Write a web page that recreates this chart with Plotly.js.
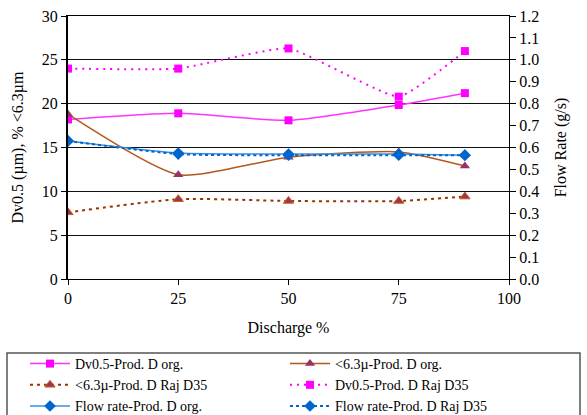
<!DOCTYPE html>
<html><head><meta charset="utf-8">
<script src="https://cdn.plot.ly/plotly-3.0.1.min.js"></script>
<style>html,body{margin:0;padding:0;background:#fff}#c{width:587px;height:415px}</style>
</head><body><div id="c"></div>
<script>
const discharge = [0, 25, 50, 75, 90];
const dvOrg = [18.2, 18.9, 18.1, 19.85, 21.2];
const dvRaj = [24.0, 24.0, 26.3, 20.8, 26.0];
const fineOrg = [18.8, 11.9, 13.9, 14.5, 12.9];
const fineRaj = [7.6, 9.1, 8.9, 8.9, 9.4];
const flowOrg = [0.63, 0.575, 0.57, 0.57, 0.565];
const flowRaj = [0.63, 0.57, 0.565, 0.565, 0.565];
const xTicks = [0, 25, 50, 75, 100];
const yTicks = [0, 5, 10, 15, 20, 25, 30];

const F = '"Liberation Serif", "Times New Roman", serif';
const SM = 0.6;
const traces = [
  {x: discharge, y: dvOrg, name: 'Dv0.5-Prod. D org.', mode: 'lines+markers', legend: 'legend',
   line: {color: '#ff33ff', width: 1.5, shape: 'spline', smoothing: SM},
   marker: {symbol: 'square', size: 8, color: '#ff00ff'}},
  {x: discharge, y: fineOrg, name: '<6.3\u00b5-Prod. D org.', mode: 'lines+markers', legend: 'legend2',
   line: {color: '#b5561a', width: 1.5, shape: 'spline', smoothing: SM},
   marker: {symbol: 'triangle-up', size: 9, color: '#993366'}},
  {x: discharge, y: fineRaj, name: '<6.3\u00b5-Prod. D Raj D35', mode: 'lines+markers', legend: 'legend',
   line: {color: '#993300', width: 2, shape: 'spline', smoothing: SM, dash: '3px,4px'},
   marker: {symbol: 'triangle-up', size: 9, color: '#993366', line: {color: '#cc6600', width: 1}}},
  {x: discharge, y: dvRaj, name: 'Dv0.5-Prod. D Raj D35', mode: 'lines+markers', legend: 'legend2',
   line: {color: '#ff00ff', width: 2, shape: 'spline', smoothing: 0.4, dash: '2px,5px'},
   marker: {symbol: 'square', size: 8, color: '#ff00ff'}},
  {x: discharge, y: flowOrg, name: 'Flow rate-Prod. D org.', mode: 'lines+markers', yaxis: 'y2', legend: 'legend',
   line: {color: '#3d8ee0', width: 1.5, shape: 'spline', smoothing: SM},
   marker: {symbol: 'diamond', size: 9, color: '#0066cc'}},
  {x: discharge, y: flowRaj, name: 'Flow rate-Prod. D Raj D35', mode: 'lines+markers', yaxis: 'y2', legend: 'legend2',
   line: {color: '#0066cc', width: 2, shape: 'spline', smoothing: SM, dash: '3px,3px'},
   marker: {symbol: 'diamond', size: 9, color: '#0066cc'}}
];

const legBase = {xanchor: 'left', yanchor: 'middle', y: (279 - 385) / 263, traceorder: 'normal',
  bgcolor: 'rgba(0,0,0,0)', borderwidth: 0, font: {family: F, size: 14}, itemwidth: 40};

const layout = {
  width: 587, height: 415,
  margin: {l: 68, r: 78, t: 16, b: 136, autoexpand: false},
  paper_bgcolor: '#fff', plot_bgcolor: '#fff',
  font: {family: F, size: 16, color: '#000'},
  showlegend: true,
  xaxis: {range: [0, 100], tickvals: xTicks, ticks: 'outside', ticklen: 5, tickcolor: '#000',
          showline: true, linecolor: '#000', linewidth: 1, mirror: true, showgrid: false, zeroline: false,
          title: {text: 'Discharge %', font: {family: F, size: 16}, standoff: 15}},
  yaxis: {range: [0, 30], tickvals: yTicks, ticks: 'outside', ticklen: 5, tickcolor: '#000',
          showline: true, linecolor: '#000', linewidth: 2, showgrid: true, gridcolor: '#111', gridwidth: 1,
          zeroline: false, title: {text: 'Dv0.5 (\u00b5m), % <6.3\u00b5m', font: {family: F, size: 16}, standoff: 14}},
  yaxis2: {range: [0, 1.2], dtick: 0.1, tickformat: '.1f', overlaying: 'y', side: 'right',
           ticks: 'outside', ticklen: 6, tickcolor: '#000', showline: true, linecolor: '#000', linewidth: 1,
           showgrid: false, zeroline: false,
           title: {text: 'Flow Rate (g/s)', font: {family: F, size: 16}, standoff: 16}},
  legend: Object.assign({}, legBase, {x: (25 - 68) / 441}),
  legend2: Object.assign({}, legBase, {x: (285 - 68) / 441}),
  shapes: [{type: 'rect', xref: 'paper', yref: 'paper',
            x0: (7 - 68) / 441, x1: (580 - 68) / 441, y0: (279 - 353) / 263, y1: (279 - 420) / 263,
            line: {color: '#555', width: 1.5}, fillcolor: 'rgba(0,0,0,0)'}]
};
Plotly.newPlot('c', traces, layout, {displayModeBar: false, staticPlot: true});
</script></body></html>
